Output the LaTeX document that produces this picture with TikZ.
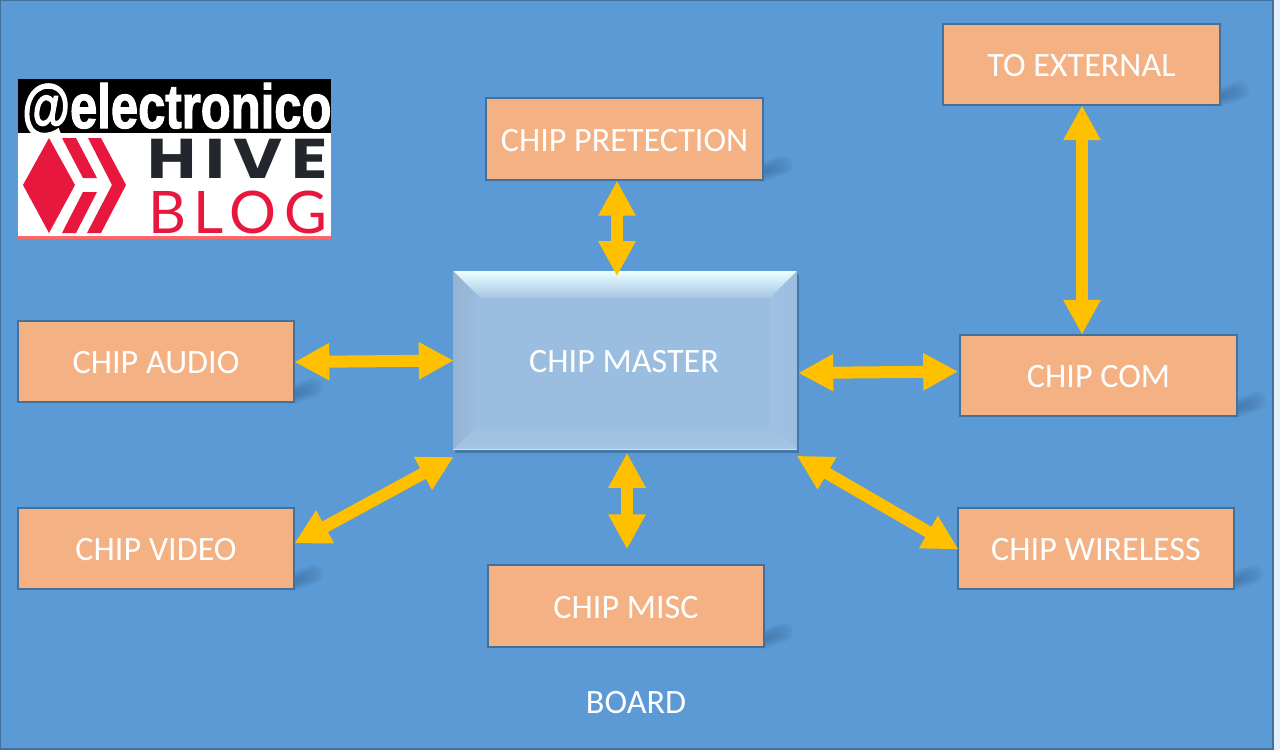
\documentclass[tikz,border=0pt]{standalone}
\usepackage{fontspec}
\usepackage{graphicx}
\setmainfont{Carlito}
\newfontfamily\logobold[RawFeature={embolden=2}]{Liberation Sans Bold}
\newfontfamily\hivefont[LetterSpace=13]{Poppins Bold}
\newfontfamily\blogfont[LetterSpace=13]{Lato}
\usetikzlibrary{arrows.meta,calc}
\definecolor{boardblue}{HTML}{5B9AD5}
\definecolor{edgeblue}{HTML}{41719C}
\definecolor{chipfill}{HTML}{F4B183}
\definecolor{arrowgold}{HTML}{FFC000}
\definecolor{shadowblue}{HTML}{2F5580}
\definecolor{hivered}{HTML}{E8173E}
\definecolor{hivedark}{HTML}{23272D}
\definecolor{faceblue}{HTML}{9BBDE0}
\tikzset{
  x=0.75pt,y=-0.75pt,
  chipbox/.style={draw=edgeblue,line width=1.5pt,fill=chipfill,text=white,inner sep=0pt,
    minimum width=207.5pt,minimum height=61pt,text height=18pt,text depth=0pt,font=\fontsize{25.6}{30}\selectfont},
  boardtext/.style={text=white,inner sep=0pt,text height=18pt,text depth=0pt,font=\fontsize{25.6}{30}\selectfont},
  linkarrow/.style={draw=arrowgold,line width=9pt,
    {Triangle[length=26.25pt,width=26.25pt,fill=arrowgold]}-{Triangle[length=26.25pt,width=26.25pt,fill=arrowgold]}},
  shadowstroke/.style={draw=shadowblue,opacity=0.07,line cap=round},
}
\newcommand{\chipshadow}[2]{%
  \foreach \w/\k in {14/1.0,12/0.95,10/0.85,8/0.75,6/0.6,4/0.45,2/0.3}{
    \draw[shadowstroke,line width=\w pt] (#1-2,#2-7) -- ++(22*\k,-8*\k);
  }}
\begin{document}
\begin{tikzpicture}
\useasboundingbox (0,0) rectangle (1280,750);
\fill[fill=white!85!boardblue] (0,0) rectangle (1280,750);
\fill[fill=boardblue,draw=edgeblue,line width=1.5pt] (0,0) rectangle (1273,749);

% shadows
\chipshadow{763}{180}
\chipshadow{1220}{105}
\chipshadow{1237}{416}
\chipshadow{294}{402}
\chipshadow{294}{589}
\chipshadow{764}{647}
\chipshadow{1234}{589}

% boxes
\node[chipbox] (pret) at (624.5,139) {CHIP PRETECTION};
\node[chipbox] (ext) at (1081.5,64.5) {TO EXTERNAL};
\node[chipbox] (com) at (1098.5,375.5) {CHIP COM};
\node[chipbox] (audio) at (156,361.5) {CHIP AUDIO};
\node[chipbox] (video) at (156,548.5) {CHIP VIDEO};
\node[chipbox] (misc) at (626,606) {CHIP MISC};
\node[chipbox] (wireless) at (1096,548.5) {CHIP WIRELESS};

% master, bevelled
\fill[shadowblue,opacity=0.5] (455,274) rectangle (799,453);
\node[fill=faceblue,inner sep=0pt,minimum width=257.25pt,minimum height=133.5pt] (master) at (625,360.5) {};
\shade[top color=white!92!cyan,middle color=white!55!faceblue,bottom color=faceblue!90!white]
  (master.north west) -- (master.north east) -- ($(master.north east)+(-27,27)$) -- ($(master.north west)+(27,27)$) -- cycle;
\shade[left color=faceblue!85!gray,right color=faceblue]
  (master.north west) -- ($(master.north west)+(27,27)$) -- ($(master.south west)+(27,-27)$) -- (master.south west) -- cycle;
\shade[left color=faceblue!92!white,right color=faceblue]
  (master.north east) -- ($(master.north east)+(-27,27)$) -- ($(master.south east)+(-27,-27)$) -- (master.south east) -- cycle;
\shade[top color=faceblue,bottom color=faceblue!88!white]
  (master.south west) -- ($(master.south west)+(27,-27)$) -- ($(master.south east)+(-27,-27)$) -- (master.south east) -- cycle;
\draw[white!70!boardblue,line width=1pt] (master.south west) -- (master.south east);
\node[boardtext] (mastertext) at (624,360) {CHIP MASTER};

% connectors
\draw[linkarrow] ($(pret.south)+(-7.5,0)$) -- ($(master.north)+(-8,5)$);
\draw[linkarrow] ($(ext.south)+(0.5,-1)$) -- ($(com.north)+(-16.5,1)$);
\draw[linkarrow] ($(audio.east)+(-1,0.5)$) -- ($(master.west)+(0.5,0)$);
\draw[linkarrow] ($(master.east)+(1.5,12.5)$) -- ($(com.west)+(-1,-4)$);
\draw[linkarrow] ($(video.east)+(-1,-5)$) -- ($(master.south west)+(0.5,7)$);
\draw[linkarrow] ($(master.south)+(2,3)$) -- ($(misc.north)+(1,-15)$);
\draw[linkarrow] ($(master.south east)+(0,6)$) -- ($(wireless.west)+(2,1)$);

% logo
\fill[white] (18,133) rectangle (331,236);
\fill[black] (18,79) rectangle (331,133);
\fill[red!60!white] (18,236) rectangle (331,239);
\fill[hivered] (23,185) -- (49,138) -- (75,185) -- (49,233) -- cycle;
\fill[hivered] (62,138) -- (76,138) -- (97,178) -- (83,178) -- cycle;
\fill[hivered] (88,138) -- (101,138) -- (126,185) -- (101,233) -- (87,233) -- (112,185) -- cycle;
\fill[hivered] (62,233) -- (76,233) -- (97,192) -- (83,192) -- cycle;
\node[inner sep=0pt,text=white,anchor=base west,font=\logobold\fontsize{36.75}{40}\selectfont] (handle) at (22,128) {\scalebox{1}[1.27]{@electronico}};
\node[inner sep=0pt,text=hivedark,anchor=base west,font=\hivefont\fontsize{42}{44}\selectfont] (hive) at (147,178) {\scalebox{1.2}[1]{HIVE}};
\node[inner sep=0pt,text=hivered,anchor=base west,font=\blogfont\fontsize{44}{46}\selectfont] (blog) at (148,233) {BLOG};

\node[boardtext] (board) at (636,701) {BOARD};
\end{tikzpicture}
\end{document}
